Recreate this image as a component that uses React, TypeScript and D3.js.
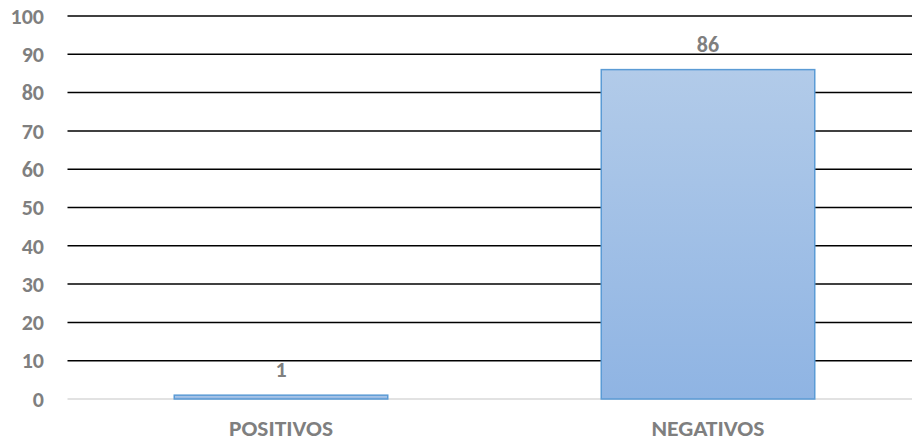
import React from "react";
import * as d3 from "d3";

const categories = ["POSITIVOS", "NEGATIVOS"];
const values = [1, 86];
const yTicks = [0, 10, 20, 30, 40, 50, 60, 70, 80, 90, 100];

export default function App() {
  const W = 912, H = 442;
  const x0 = 67.5, x1 = 921.5;
  const y = d3.scaleLinear().domain([0, 100]).range([399, 16]);
  const x = d3.scaleBand().domain(categories).range([x0, x1]).paddingInner(0.5).paddingOuter(0.25);
  const font = "Carlito, 'Open Sans', 'Liberation Sans', sans-serif";
  return (
    <svg width={W} height={H} style={{ position: "absolute", left: 0, top: 0 }}>
      <defs>
        <linearGradient id="bg" x1="0" y1="0" x2="0" y2="1">
          <stop offset="0" stopColor="#b2cbe9" />
          <stop offset="1" stopColor="#8fb4e3" />
        </linearGradient>
      </defs>
      <rect width={W} height={H} fill="#fff" />
      {yTicks.map((t) => (
        <g key={t}>
          <line x1={x0} x2={W} y1={y(t)} y2={y(t)} stroke={t === 0 ? "#d9d9d9" : "#000"} strokeWidth={1.5} />
          <text x={44} y={y(t)} dy="0.35em" textAnchor="end" fill="#7f7f7f" fontFamily={font} fontWeight="bold" fontSize={22}>{t}</text>
        </g>
      ))}
      {categories.map((c, i) => {
        const bx = x(c)!;
        const bw = x.bandwidth();
        const top = y(values[i]);
        return (
          <g key={c}>
            <rect x={bx} y={top} width={bw} height={y(0) - top} fill="url(#bg)" stroke="#5b9bd5" strokeWidth={1.5} />
            <text x={bx + bw / 2} y={top - 18} textAnchor="middle" fill="#7f7f7f" fontFamily={font} fontWeight="bold" fontSize={22}>{values[i]}</text>
            <text x={bx + bw / 2} y={436} textAnchor="middle" fill="#7f7f7f" fontFamily={font} fontWeight="bold" fontSize={23} textLength={i === 0 ? 104 : 113} lengthAdjust="spacingAndGlyphs">{c}</text>
          </g>
        );
      })}
    </svg>
  );
}
